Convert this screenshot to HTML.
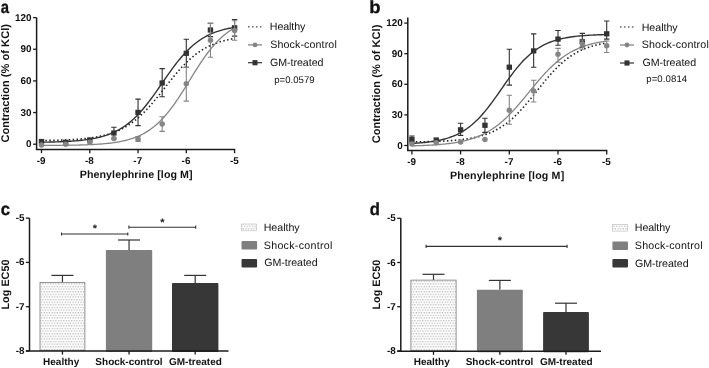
<!DOCTYPE html>
<html><head><meta charset="utf-8"><style>
html,body{margin:0;padding:0;background:#fff;}
body{width:709px;height:368px;overflow:hidden;}
svg{display:block;filter:grayscale(1);}
text{font-family:"Liberation Sans", sans-serif;fill:#111;text-rendering:geometricPrecision;}
.tk{font-size:9.9px;font-weight:bold;}
.al{font-size:10.6px;font-weight:bold;}
.bl{font-size:9.7px;font-weight:bold;}
.lg{font-size:10.2px;fill:#1a1a1a;}
.pv{font-size:9.6px;fill:#1a1a1a;}
.tag{font-size:18px;font-weight:bold;}
.st{font-size:11px;font-weight:bold;fill:#222;}
</style></head><body>
<svg width="709" height="368" viewBox="0 0 709 368">
<defs>
<pattern id="dots" patternUnits="userSpaceOnUse" width="2.62" height="5.24" x="0.3" y="0.3">
<rect width="2.62" height="5.24" fill="#fff"/>
<rect x="0.2" y="0.2" width="1" height="1" fill="#8e8e8e"/>
<rect x="1.51" y="2.82" width="1" height="1" fill="#8e8e8e"/>
</pattern>
</defs>
<rect width="709" height="368" fill="#fff"/>
<line x1="36.6" y1="17.6" x2="36.6" y2="149.4" stroke="#1a1a1a" stroke-width="1.5"/>
<line x1="35.85" y1="149.4" x2="235.18" y2="149.4" stroke="#1a1a1a" stroke-width="1.5"/>
<line x1="33.1" y1="144.20" x2="36.6" y2="144.20" stroke="#1a1a1a" stroke-width="1.3"/>
<text x="31.6" y="147.20" text-anchor="end" class="tk">0</text>
<line x1="33.1" y1="112.55" x2="36.6" y2="112.55" stroke="#1a1a1a" stroke-width="1.3"/>
<text x="31.6" y="115.55" text-anchor="end" class="tk">30</text>
<line x1="33.1" y1="80.90" x2="36.6" y2="80.90" stroke="#1a1a1a" stroke-width="1.3"/>
<text x="31.6" y="83.90" text-anchor="end" class="tk">60</text>
<line x1="33.1" y1="49.25" x2="36.6" y2="49.25" stroke="#1a1a1a" stroke-width="1.3"/>
<text x="31.6" y="52.25" text-anchor="end" class="tk">90</text>
<line x1="33.1" y1="17.60" x2="36.6" y2="17.60" stroke="#1a1a1a" stroke-width="1.3"/>
<text x="31.6" y="20.60" text-anchor="end" class="tk">120</text>
<line x1="41.50" y1="149.4" x2="41.50" y2="153.20000000000002" stroke="#1a1a1a" stroke-width="1.3"/>
<text x="41.20" y="163.9" text-anchor="middle" class="tk">-9</text>
<line x1="89.77" y1="149.4" x2="89.77" y2="153.20000000000002" stroke="#1a1a1a" stroke-width="1.3"/>
<text x="89.47" y="163.9" text-anchor="middle" class="tk">-8</text>
<line x1="138.04" y1="149.4" x2="138.04" y2="153.20000000000002" stroke="#1a1a1a" stroke-width="1.3"/>
<text x="137.74" y="163.9" text-anchor="middle" class="tk">-7</text>
<line x1="186.31" y1="149.4" x2="186.31" y2="153.20000000000002" stroke="#1a1a1a" stroke-width="1.3"/>
<text x="186.01" y="163.9" text-anchor="middle" class="tk">-6</text>
<line x1="234.58" y1="149.4" x2="234.58" y2="153.20000000000002" stroke="#1a1a1a" stroke-width="1.3"/>
<text x="234.28" y="163.9" text-anchor="middle" class="tk">-5</text>
<path d="M41.50,140.55 L43.11,140.52 L44.72,140.50 L46.33,140.47 L47.94,140.45 L49.54,140.42 L51.15,140.38 L52.76,140.35 L54.37,140.31 L55.98,140.27 L57.59,140.22 L59.20,140.17 L60.81,140.12 L62.42,140.07 L64.03,140.01 L65.64,139.94 L67.24,139.87 L68.85,139.79 L70.46,139.71 L72.07,139.62 L73.68,139.53 L75.29,139.42 L76.90,139.31 L78.51,139.19 L80.12,139.06 L81.73,138.92 L83.33,138.77 L84.94,138.61 L86.55,138.44 L88.16,138.25 L89.77,138.04 L91.38,137.83 L92.99,137.59 L94.60,137.34 L96.21,137.07 L97.82,136.78 L99.42,136.46 L101.03,136.13 L102.64,135.77 L104.25,135.38 L105.86,134.97 L107.47,134.52 L109.08,134.05 L110.69,133.54 L112.30,132.99 L113.91,132.41 L115.51,131.79 L117.12,131.13 L118.73,130.42 L120.34,129.67 L121.95,128.87 L123.56,128.02 L125.17,127.13 L126.78,126.17 L128.39,125.17 L130.00,124.10 L131.60,122.98 L133.21,121.80 L134.82,120.56 L136.43,119.26 L138.04,117.89 L139.65,116.47 L141.26,114.98 L142.87,113.44 L144.48,111.83 L146.08,110.17 L147.69,108.46 L149.30,106.69 L150.91,104.87 L152.52,103.00 L154.13,101.10 L155.74,99.16 L157.35,97.18 L158.96,95.18 L160.57,93.15 L162.18,91.11 L163.78,89.07 L165.39,87.01 L167.00,84.96 L168.61,82.92 L170.22,80.90 L171.83,78.89 L173.44,76.91 L175.05,74.96 L176.66,73.05 L178.27,71.18 L179.87,69.36 L181.48,67.58 L183.09,65.86 L184.70,64.19 L186.31,62.58 L187.92,61.03 L189.53,59.54 L191.14,58.11 L192.75,56.74 L194.35,55.43 L195.96,54.18 L197.57,52.99 L199.18,51.86 L200.79,50.79 L202.40,49.78 L204.01,48.82 L205.62,47.91 L207.23,47.06 L208.84,46.25 L210.45,45.50 L212.05,44.79 L213.66,44.12 L215.27,43.49 L216.88,42.91 L218.49,42.36 L220.10,41.85 L221.71,41.37 L223.32,40.92 L224.93,40.50 L226.54,40.11 L228.14,39.74 L229.75,39.41 L231.36,39.09 L232.97,38.80 L234.58,38.52" fill="none" stroke="#222" stroke-width="1.6" stroke-dasharray="1.5 2.4"/>
<path d="M41.50,145.47 L43.11,145.46 L44.72,145.46 L46.33,145.45 L47.94,145.44 L49.54,145.43 L51.15,145.42 L52.76,145.41 L54.37,145.40 L55.98,145.38 L57.59,145.37 L59.20,145.35 L60.81,145.34 L62.42,145.32 L64.03,145.30 L65.64,145.28 L67.24,145.26 L68.85,145.23 L70.46,145.21 L72.07,145.18 L73.68,145.15 L75.29,145.11 L76.90,145.08 L78.51,145.04 L80.12,145.00 L81.73,144.95 L83.33,144.90 L84.94,144.85 L86.55,144.79 L88.16,144.72 L89.77,144.66 L91.38,144.58 L92.99,144.50 L94.60,144.41 L96.21,144.32 L97.82,144.22 L99.42,144.11 L101.03,143.99 L102.64,143.86 L104.25,143.72 L105.86,143.57 L107.47,143.41 L109.08,143.23 L110.69,143.05 L112.30,142.84 L113.91,142.62 L115.51,142.38 L117.12,142.12 L118.73,141.84 L120.34,141.54 L121.95,141.22 L123.56,140.87 L125.17,140.50 L126.78,140.09 L128.39,139.66 L130.00,139.19 L131.60,138.69 L133.21,138.15 L134.82,137.56 L136.43,136.94 L138.04,136.27 L139.65,135.56 L141.26,134.79 L142.87,133.98 L144.48,133.10 L146.08,132.17 L147.69,131.17 L149.30,130.12 L150.91,128.99 L152.52,127.80 L154.13,126.53 L155.74,125.19 L157.35,123.77 L158.96,122.28 L160.57,120.71 L162.18,119.06 L163.78,117.32 L165.39,115.51 L167.00,113.62 L168.61,111.65 L170.22,109.60 L171.83,107.47 L173.44,105.28 L175.05,103.01 L176.66,100.68 L178.27,98.30 L179.87,95.86 L181.48,93.37 L183.09,90.84 L184.70,88.29 L186.31,85.70 L187.92,83.10 L189.53,80.49 L191.14,77.88 L192.75,75.28 L194.35,72.70 L195.96,70.14 L197.57,67.61 L199.18,65.13 L200.79,62.69 L202.40,60.30 L204.01,57.97 L205.62,55.70 L207.23,53.51 L208.84,51.38 L210.45,49.33 L212.05,47.36 L213.66,45.46 L215.27,43.65 L216.88,41.91 L218.49,40.26 L220.10,38.68 L221.71,37.19 L223.32,35.77 L224.93,34.43 L226.54,33.16 L228.14,31.97 L229.75,30.84 L231.36,29.78 L232.97,28.79 L234.58,27.85" fill="none" stroke="#858585" stroke-width="1.3"/>
<path d="M41.50,142.22 L43.11,142.19 L44.72,142.16 L46.33,142.13 L47.94,142.10 L49.54,142.06 L51.15,142.02 L52.76,141.98 L54.37,141.94 L55.98,141.89 L57.59,141.83 L59.20,141.78 L60.81,141.71 L62.42,141.65 L64.03,141.57 L65.64,141.49 L67.24,141.41 L68.85,141.32 L70.46,141.22 L72.07,141.11 L73.68,140.99 L75.29,140.87 L76.90,140.73 L78.51,140.59 L80.12,140.43 L81.73,140.26 L83.33,140.08 L84.94,139.88 L86.55,139.67 L88.16,139.44 L89.77,139.19 L91.38,138.92 L92.99,138.64 L94.60,138.33 L96.21,138.00 L97.82,137.64 L99.42,137.26 L101.03,136.84 L102.64,136.40 L104.25,135.93 L105.86,135.42 L107.47,134.87 L109.08,134.29 L110.69,133.66 L112.30,132.99 L113.91,132.28 L115.51,131.51 L117.12,130.70 L118.73,129.83 L120.34,128.91 L121.95,127.93 L123.56,126.89 L125.17,125.79 L126.78,124.63 L128.39,123.40 L130.00,122.10 L131.60,120.73 L133.21,119.30 L134.82,117.79 L136.43,116.21 L138.04,114.56 L139.65,112.84 L141.26,111.06 L142.87,109.20 L144.48,107.29 L146.08,105.30 L147.69,103.26 L149.30,101.17 L150.91,99.02 L152.52,96.83 L154.13,94.60 L155.74,92.34 L157.35,90.05 L158.96,87.74 L160.57,85.41 L162.18,83.08 L163.78,80.75 L165.39,78.42 L167.00,76.12 L168.61,73.83 L170.22,71.57 L171.83,69.35 L173.44,67.16 L175.05,65.03 L176.66,62.94 L178.27,60.91 L179.87,58.94 L181.48,57.04 L183.09,55.19 L184.70,53.42 L186.31,51.71 L187.92,50.08 L189.53,48.51 L191.14,47.02 L192.75,45.60 L194.35,44.24 L195.96,42.96 L197.57,41.74 L199.18,40.58 L200.79,39.49 L202.40,38.47 L204.01,37.50 L205.62,36.59 L207.23,35.73 L208.84,34.93 L210.45,34.17 L212.05,33.46 L213.66,32.80 L215.27,32.18 L216.88,31.61 L218.49,31.07 L220.10,30.56 L221.71,30.10 L223.32,29.66 L224.93,29.25 L226.54,28.87 L228.14,28.52 L229.75,28.19 L231.36,27.89 L232.97,27.60 L234.58,27.34" fill="none" stroke="#333333" stroke-width="1.4"/>
<rect x="38.80" y="138.9" width="5.4" height="5.2" fill="#333333"/>
<rect x="62.94" y="139.70000000000002" width="5.4" height="5.2" fill="#333333"/>
<rect x="87.07" y="137.4" width="5.4" height="5.2" fill="#333333"/>
<path d="M113.91,127.2 V138.8 M111.20,127.2 h5.4 M111.20,138.8 h5.4" stroke="#333333" stroke-width="1.1" fill="none"/>
<rect x="111.20" y="130.4" width="5.4" height="5.2" fill="#333333"/>
<path d="M138.04,99.1 V125.6 M135.34,99.1 h5.4 M135.34,125.6 h5.4" stroke="#333333" stroke-width="1.1" fill="none"/>
<rect x="135.34" y="109.80000000000001" width="5.4" height="5.2" fill="#333333"/>
<path d="M162.18,68.6 V96.7 M159.48,68.6 h5.4 M159.48,96.7 h5.4" stroke="#333333" stroke-width="1.1" fill="none"/>
<rect x="159.48" y="80.4" width="5.4" height="5.2" fill="#333333"/>
<path d="M186.31,39.3 V67.2 M183.61,39.3 h5.4 M183.61,67.2 h5.4" stroke="#333333" stroke-width="1.1" fill="none"/>
<rect x="183.61" y="50.699999999999996" width="5.4" height="5.2" fill="#333333"/>
<path d="M210.45,23.4 V36.6 M207.75,23.4 h5.4 M207.75,36.6 h5.4" stroke="#333333" stroke-width="1.1" fill="none"/>
<rect x="207.75" y="27.4" width="5.4" height="5.2" fill="#333333"/>
<path d="M234.58,19.5 V36.1 M231.88,19.5 h5.4 M231.88,36.1 h5.4" stroke="#333333" stroke-width="1.1" fill="none"/>
<rect x="231.88" y="25.2" width="5.4" height="5.2" fill="#333333"/>
<circle cx="41.50" cy="145" r="2.75" fill="#858585"/>
<circle cx="65.64" cy="144.3" r="2.75" fill="#858585"/>
<circle cx="89.77" cy="142.3" r="2.75" fill="#858585"/>
<circle cx="113.91" cy="138.4" r="2.75" fill="#858585"/>
<path d="M138.04,136.5 V141.5 M135.34,136.5 h5.4 M135.34,141.5 h5.4" stroke="#858585" stroke-width="1.1" fill="none"/>
<circle cx="138.04" cy="139.2" r="2.75" fill="#858585"/>
<path d="M162.18,116.8 V131.4 M159.48,116.8 h5.4 M159.48,131.4 h5.4" stroke="#858585" stroke-width="1.1" fill="none"/>
<circle cx="162.18" cy="124.1" r="2.75" fill="#858585"/>
<path d="M186.31,67.3 V101.1 M183.61,67.3 h5.4 M183.61,101.1 h5.4" stroke="#858585" stroke-width="1.1" fill="none"/>
<circle cx="186.31" cy="83.7" r="2.75" fill="#858585"/>
<path d="M210.45,23.4 V57.2 M207.75,23.4 h5.4 M207.75,57.2 h5.4" stroke="#858585" stroke-width="1.1" fill="none"/>
<circle cx="210.45" cy="40.2" r="2.75" fill="#858585"/>
<path d="M234.58,20.8 V40.2 M231.88,20.8 h5.4 M231.88,40.2 h5.4" stroke="#858585" stroke-width="1.1" fill="none"/>
<circle cx="234.58" cy="30.5" r="2.75" fill="#858585"/>
<line x1="248" y1="26.8" x2="262" y2="26.8" stroke="#6a6a6a" stroke-width="1.5" stroke-dasharray="1.6 2.35"/>
<line x1="248" y1="44.9" x2="262" y2="44.9" stroke="#858585" stroke-width="1.3"/>
<circle cx="255" cy="44.9" r="2.4" fill="#858585"/>
<line x1="248" y1="62.7" x2="262" y2="62.7" stroke="#333333" stroke-width="1.2"/>
<rect x="252.5" y="60.1" width="5" height="5.2" fill="#333333"/>
<line x1="407.8" y1="17.6" x2="407.8" y2="150.6" stroke="#1a1a1a" stroke-width="1.5"/>
<line x1="407.05" y1="150.6" x2="607.3000000000001" y2="150.6" stroke="#1a1a1a" stroke-width="1.5"/>
<line x1="404.3" y1="145.50" x2="407.8" y2="145.50" stroke="#1a1a1a" stroke-width="1.3"/>
<text x="402.8" y="148.50" text-anchor="end" class="tk">0</text>
<line x1="404.3" y1="114.90" x2="407.8" y2="114.90" stroke="#1a1a1a" stroke-width="1.3"/>
<text x="402.8" y="117.90" text-anchor="end" class="tk">30</text>
<line x1="404.3" y1="84.30" x2="407.8" y2="84.30" stroke="#1a1a1a" stroke-width="1.3"/>
<text x="402.8" y="87.30" text-anchor="end" class="tk">60</text>
<line x1="404.3" y1="53.70" x2="407.8" y2="53.70" stroke="#1a1a1a" stroke-width="1.3"/>
<text x="402.8" y="56.70" text-anchor="end" class="tk">90</text>
<line x1="404.3" y1="23.10" x2="407.8" y2="23.10" stroke="#1a1a1a" stroke-width="1.3"/>
<text x="402.8" y="26.10" text-anchor="end" class="tk">120</text>
<line x1="411.90" y1="150.6" x2="411.90" y2="154.4" stroke="#1a1a1a" stroke-width="1.3"/>
<text x="411.60" y="165.1" text-anchor="middle" class="tk">-9</text>
<line x1="460.60" y1="150.6" x2="460.60" y2="154.4" stroke="#1a1a1a" stroke-width="1.3"/>
<text x="460.30" y="165.1" text-anchor="middle" class="tk">-8</text>
<line x1="509.30" y1="150.6" x2="509.30" y2="154.4" stroke="#1a1a1a" stroke-width="1.3"/>
<text x="509.00" y="165.1" text-anchor="middle" class="tk">-7</text>
<line x1="558.00" y1="150.6" x2="558.00" y2="154.4" stroke="#1a1a1a" stroke-width="1.3"/>
<text x="557.70" y="165.1" text-anchor="middle" class="tk">-6</text>
<line x1="606.70" y1="150.6" x2="606.70" y2="154.4" stroke="#1a1a1a" stroke-width="1.3"/>
<text x="606.40" y="165.1" text-anchor="middle" class="tk">-5</text>
<path d="M411.90,141.92 L413.52,141.90 L415.15,141.88 L416.77,141.86 L418.39,141.84 L420.02,141.81 L421.64,141.78 L423.26,141.75 L424.89,141.72 L426.51,141.69 L428.13,141.65 L429.76,141.61 L431.38,141.56 L433.00,141.52 L434.63,141.47 L436.25,141.41 L437.87,141.35 L439.50,141.28 L441.12,141.21 L442.74,141.14 L444.37,141.06 L445.99,140.97 L447.61,140.87 L449.24,140.77 L450.86,140.65 L452.48,140.53 L454.11,140.40 L455.73,140.26 L457.35,140.11 L458.98,139.94 L460.60,139.76 L462.22,139.57 L463.85,139.36 L465.47,139.14 L467.09,138.90 L468.72,138.64 L470.34,138.36 L471.96,138.06 L473.59,137.74 L475.21,137.39 L476.83,137.02 L478.46,136.61 L480.08,136.18 L481.70,135.72 L483.33,135.23 L484.95,134.69 L486.57,134.13 L488.20,133.52 L489.82,132.87 L491.44,132.18 L493.07,131.44 L494.69,130.65 L496.31,129.81 L497.94,128.92 L499.56,127.98 L501.18,126.98 L502.81,125.93 L504.43,124.81 L506.05,123.64 L507.68,122.40 L509.30,121.10 L510.92,119.74 L512.55,118.32 L514.17,116.83 L515.79,115.29 L517.42,113.68 L519.04,112.02 L520.66,110.30 L522.29,108.53 L523.91,106.71 L525.53,104.85 L527.16,102.94 L528.78,101.00 L530.40,99.03 L532.03,97.03 L533.65,95.02 L535.27,92.99 L536.90,90.96 L538.52,88.92 L540.14,86.89 L541.77,84.88 L543.39,82.88 L545.01,80.91 L546.64,78.97 L548.26,77.06 L549.88,75.19 L551.51,73.37 L553.13,71.60 L554.75,69.88 L556.38,68.22 L558.00,66.61 L559.62,65.07 L561.25,63.58 L562.87,62.16 L564.49,60.79 L566.12,59.49 L567.74,58.26 L569.36,57.08 L570.99,55.96 L572.61,54.91 L574.23,53.91 L575.86,52.96 L577.48,52.07 L579.10,51.24 L580.73,50.45 L582.35,49.71 L583.97,49.01 L585.60,48.36 L587.22,47.76 L588.84,47.19 L590.47,46.66 L592.09,46.16 L593.71,45.70 L595.34,45.26 L596.96,44.86 L598.58,44.49 L600.21,44.14 L601.83,43.82 L603.45,43.51 L605.08,43.23 L606.70,42.98" fill="none" stroke="#222" stroke-width="1.6" stroke-dasharray="1.5 2.4"/>
<path d="M411.90,145.84 L413.52,145.80 L415.15,145.76 L416.77,145.71 L418.39,145.66 L420.02,145.60 L421.64,145.54 L423.26,145.48 L424.89,145.41 L426.51,145.34 L428.13,145.26 L429.76,145.17 L431.38,145.08 L433.00,144.98 L434.63,144.88 L436.25,144.76 L437.87,144.64 L439.50,144.51 L441.12,144.37 L442.74,144.22 L444.37,144.06 L445.99,143.89 L447.61,143.70 L449.24,143.50 L450.86,143.29 L452.48,143.06 L454.11,142.82 L455.73,142.55 L457.35,142.27 L458.98,141.97 L460.60,141.65 L462.22,141.31 L463.85,140.94 L465.47,140.55 L467.09,140.13 L468.72,139.69 L470.34,139.21 L471.96,138.70 L473.59,138.16 L475.21,137.59 L476.83,136.98 L478.46,136.33 L480.08,135.64 L481.70,134.91 L483.33,134.13 L484.95,133.32 L486.57,132.45 L488.20,131.53 L489.82,130.57 L491.44,129.55 L493.07,128.48 L494.69,127.36 L496.31,126.18 L497.94,124.95 L499.56,123.66 L501.18,122.32 L502.81,120.92 L504.43,119.46 L506.05,117.95 L507.68,116.38 L509.30,114.77 L510.92,113.10 L512.55,111.38 L514.17,109.62 L515.79,107.82 L517.42,105.98 L519.04,104.11 L520.66,102.20 L522.29,100.27 L523.91,98.31 L525.53,96.35 L527.16,94.36 L528.78,92.38 L530.40,90.39 L532.03,88.41 L533.65,86.43 L535.27,84.48 L536.90,82.54 L538.52,80.63 L540.14,78.74 L541.77,76.89 L543.39,75.08 L545.01,73.31 L546.64,71.59 L548.26,69.91 L549.88,68.28 L551.51,66.70 L553.13,65.18 L554.75,63.71 L556.38,62.29 L558.00,60.93 L559.62,59.63 L561.25,58.38 L562.87,57.19 L564.49,56.06 L566.12,54.98 L567.74,53.95 L569.36,52.97 L570.99,52.04 L572.61,51.17 L574.23,50.33 L575.86,49.55 L577.48,48.81 L579.10,48.11 L580.73,47.45 L582.35,46.83 L583.97,46.25 L585.60,45.70 L587.22,45.18 L588.84,44.70 L590.47,44.25 L592.09,43.82 L593.71,43.43 L595.34,43.05 L596.96,42.70 L598.58,42.38 L600.21,42.07 L601.83,41.79 L603.45,41.52 L605.08,41.27 L606.70,41.04" fill="none" stroke="#858585" stroke-width="1.3"/>
<path d="M411.90,143.43 L413.52,143.34 L415.15,143.24 L416.77,143.13 L418.39,143.02 L420.02,142.89 L421.64,142.75 L423.26,142.60 L424.89,142.44 L426.51,142.26 L428.13,142.07 L429.76,141.87 L431.38,141.64 L433.00,141.40 L434.63,141.14 L436.25,140.85 L437.87,140.54 L439.50,140.21 L441.12,139.85 L442.74,139.46 L444.37,139.04 L445.99,138.58 L447.61,138.10 L449.24,137.57 L450.86,137.00 L452.48,136.39 L454.11,135.73 L455.73,135.03 L457.35,134.27 L458.98,133.46 L460.60,132.60 L462.22,131.67 L463.85,130.69 L465.47,129.63 L467.09,128.52 L468.72,127.33 L470.34,126.07 L471.96,124.74 L473.59,123.33 L475.21,121.85 L476.83,120.29 L478.46,118.66 L480.08,116.95 L481.70,115.17 L483.33,113.32 L484.95,111.40 L486.57,109.41 L488.20,107.36 L489.82,105.25 L491.44,103.09 L493.07,100.89 L494.69,98.64 L496.31,96.36 L497.94,94.06 L499.56,91.74 L501.18,89.41 L502.81,87.09 L504.43,84.77 L506.05,82.46 L507.68,80.18 L509.30,77.93 L510.92,75.72 L512.55,73.56 L514.17,71.44 L515.79,69.39 L517.42,67.39 L519.04,65.46 L520.66,63.60 L522.29,61.82 L523.91,60.10 L525.53,58.46 L527.16,56.90 L528.78,55.41 L530.40,54.00 L532.03,52.66 L533.65,51.39 L535.27,50.20 L536.90,49.07 L538.52,48.01 L540.14,47.02 L541.77,46.09 L543.39,45.22 L545.01,44.40 L546.64,43.64 L548.26,42.93 L549.88,42.27 L551.51,41.65 L553.13,41.08 L554.75,40.55 L556.38,40.06 L558.00,39.60 L559.62,39.18 L561.25,38.78 L562.87,38.42 L564.49,38.09 L566.12,37.77 L567.74,37.49 L569.36,37.22 L570.99,36.98 L572.61,36.75 L574.23,36.54 L575.86,36.35 L577.48,36.17 L579.10,36.01 L580.73,35.86 L582.35,35.72 L583.97,35.59 L585.60,35.47 L587.22,35.36 L588.84,35.26 L590.47,35.17 L592.09,35.09 L593.71,35.01 L595.34,34.94 L596.96,34.87 L598.58,34.81 L600.21,34.75 L601.83,34.70 L603.45,34.66 L605.08,34.61 L606.70,34.57" fill="none" stroke="#333333" stroke-width="1.4"/>
<path d="M411.90,136 V143 M409.20,136 h5.4 M409.20,143 h5.4" stroke="#333333" stroke-width="1.1" fill="none"/>
<rect x="409.20" y="136.9" width="5.4" height="5.2" fill="#333333"/>
<rect x="433.55" y="137.4" width="5.4" height="5.2" fill="#333333"/>
<path d="M460.60,123.2 V135.4 M457.90,123.2 h5.4 M457.90,135.4 h5.4" stroke="#333333" stroke-width="1.1" fill="none"/>
<rect x="457.90" y="127.20000000000002" width="5.4" height="5.2" fill="#333333"/>
<path d="M484.95,118.3 V132.4 M482.25,118.3 h5.4 M482.25,132.4 h5.4" stroke="#333333" stroke-width="1.1" fill="none"/>
<rect x="482.25" y="122.7" width="5.4" height="5.2" fill="#333333"/>
<path d="M509.30,49.2 V85.1 M506.60,49.2 h5.4 M506.60,85.1 h5.4" stroke="#333333" stroke-width="1.1" fill="none"/>
<rect x="506.60" y="64.60000000000001" width="5.4" height="5.2" fill="#333333"/>
<path d="M533.65,33.9 V67.2 M530.95,33.9 h5.4 M530.95,67.2 h5.4" stroke="#333333" stroke-width="1.1" fill="none"/>
<rect x="530.95" y="48.3" width="5.4" height="5.2" fill="#333333"/>
<path d="M558.00,30.5 V45.2 M555.30,30.5 h5.4 M555.30,45.2 h5.4" stroke="#333333" stroke-width="1.1" fill="none"/>
<rect x="555.30" y="36.5" width="5.4" height="5.2" fill="#333333"/>
<path d="M582.35,33.4 V47 M579.65,33.4 h5.4 M579.65,47 h5.4" stroke="#333333" stroke-width="1.1" fill="none"/>
<rect x="579.65" y="38.9" width="5.4" height="5.2" fill="#333333"/>
<path d="M606.70,21 V39.1 M604.00,21 h5.4 M604.00,39.1 h5.4" stroke="#333333" stroke-width="1.1" fill="none"/>
<rect x="604.00" y="31.199999999999996" width="5.4" height="5.2" fill="#333333"/>
<circle cx="411.90" cy="143.9" r="2.75" fill="#858585"/>
<circle cx="436.25" cy="142.7" r="2.75" fill="#858585"/>
<circle cx="460.60" cy="142.1" r="2.75" fill="#858585"/>
<circle cx="484.95" cy="139.5" r="2.75" fill="#858585"/>
<path d="M509.30,95.3 V124.2 M506.60,95.3 h5.4 M506.60,124.2 h5.4" stroke="#858585" stroke-width="1.1" fill="none"/>
<circle cx="509.30" cy="110.2" r="2.75" fill="#858585"/>
<path d="M533.65,80.2 V102 M530.95,80.2 h5.4 M530.95,102 h5.4" stroke="#858585" stroke-width="1.1" fill="none"/>
<circle cx="533.65" cy="91" r="2.75" fill="#858585"/>
<path d="M558.00,48.4 V62.3 M555.30,48.4 h5.4 M555.30,62.3 h5.4" stroke="#858585" stroke-width="1.1" fill="none"/>
<circle cx="558.00" cy="54.2" r="2.75" fill="#858585"/>
<path d="M582.35,40 V49.3 M579.65,40 h5.4 M579.65,49.3 h5.4" stroke="#858585" stroke-width="1.1" fill="none"/>
<circle cx="582.35" cy="44" r="2.75" fill="#858585"/>
<path d="M606.70,41 V52.5 M604.00,41 h5.4 M604.00,52.5 h5.4" stroke="#858585" stroke-width="1.1" fill="none"/>
<circle cx="606.70" cy="45.7" r="2.75" fill="#858585"/>
<line x1="620" y1="27" x2="634" y2="27" stroke="#6a6a6a" stroke-width="1.5" stroke-dasharray="1.6 2.35"/>
<line x1="620" y1="45" x2="634" y2="45" stroke="#858585" stroke-width="1.3"/>
<circle cx="627" cy="45" r="2.4" fill="#858585"/>
<line x1="620" y1="63" x2="634" y2="63" stroke="#333333" stroke-width="1.2"/>
<rect x="624.5" y="60.4" width="5" height="5.2" fill="#333333"/>
<line x1="25.9" y1="218.10" x2="29.5" y2="218.10" stroke="#1a1a1a" stroke-width="1.3"/>
<text x="24.5" y="221.10" text-anchor="end" class="tk">-5</text>
<line x1="25.9" y1="262.40" x2="29.5" y2="262.40" stroke="#1a1a1a" stroke-width="1.3"/>
<text x="24.5" y="265.40" text-anchor="end" class="tk">-6</text>
<line x1="25.9" y1="306.70" x2="29.5" y2="306.70" stroke="#1a1a1a" stroke-width="1.3"/>
<text x="24.5" y="309.70" text-anchor="end" class="tk">-7</text>
<line x1="25.9" y1="351.00" x2="29.5" y2="351.00" stroke="#1a1a1a" stroke-width="1.3"/>
<text x="24.5" y="354.00" text-anchor="end" class="tk">-8</text>
<line x1="62.45" y1="282.5" x2="62.45" y2="275.4" stroke="#333" stroke-width="1.2"/>
<line x1="51.45" y1="275.4" x2="73.45" y2="275.4" stroke="#333" stroke-width="1.2"/>
<rect x="40.00" y="282.5" width="44.9" height="67.80" fill="url(#dots)" stroke="#7a7a7a" stroke-width="0.8"/>
<line x1="62.45" y1="351" x2="62.45" y2="354.6" stroke="#1a1a1a" stroke-width="1.3"/>
<line x1="129.05" y1="249.9" x2="129.05" y2="240" stroke="#333" stroke-width="1.2"/>
<line x1="118.05" y1="240" x2="140.05" y2="240" stroke="#333" stroke-width="1.2"/>
<rect x="105.90" y="249.9" width="46.3" height="102.10" rx="0.9" fill="#7f7f7f"/>
<line x1="129.05" y1="351" x2="129.05" y2="354.6" stroke="#1a1a1a" stroke-width="1.3"/>
<line x1="195.20" y1="283.0" x2="195.20" y2="275.4" stroke="#333" stroke-width="1.2"/>
<line x1="184.20" y1="275.4" x2="206.20" y2="275.4" stroke="#333" stroke-width="1.2"/>
<rect x="172.00" y="283.0" width="46.4" height="69.00" rx="0.9" fill="#373737"/>
<line x1="195.20" y1="351" x2="195.20" y2="354.6" stroke="#1a1a1a" stroke-width="1.3"/>
<line x1="29.5" y1="218.1" x2="29.5" y2="351" stroke="#1a1a1a" stroke-width="1.5"/>
<line x1="25.9" y1="351" x2="228.5" y2="351" stroke="#1a1a1a" stroke-width="1.5"/>
<path d="M61.5,232.4 v3.2 M61.5,234.0 H127.8 M127.8,232.4 v3.2" stroke="#333" stroke-width="1.1" fill="none"/>
<text x="92.65" y="232.10" class="st">*</text>
<path d="M128.9,225.6 v3.2 M128.9,227.2 H195.7 M195.7,225.6 v3.2" stroke="#333" stroke-width="1.1" fill="none"/>
<text x="160.25" y="226.30" class="st">*</text>
<rect x="241.5" y="224.0" width="15" height="6.8" fill="url(#dots)" stroke="#bbb" stroke-width="0.6"/>
<rect x="241.5" y="240.9" width="15.6" height="8.6" rx="1" fill="#7f7f7f"/>
<rect x="241.5" y="259.1" width="15.6" height="8.4" rx="1" fill="#373737"/>
<line x1="397.2" y1="218.30" x2="400.8" y2="218.30" stroke="#1a1a1a" stroke-width="1.3"/>
<text x="395.8" y="221.30" text-anchor="end" class="tk">-5</text>
<line x1="397.2" y1="262.50" x2="400.8" y2="262.50" stroke="#1a1a1a" stroke-width="1.3"/>
<text x="395.8" y="265.50" text-anchor="end" class="tk">-6</text>
<line x1="397.2" y1="306.70" x2="400.8" y2="306.70" stroke="#1a1a1a" stroke-width="1.3"/>
<text x="395.8" y="309.70" text-anchor="end" class="tk">-7</text>
<line x1="397.2" y1="350.90" x2="400.8" y2="350.90" stroke="#1a1a1a" stroke-width="1.3"/>
<text x="395.8" y="353.90" text-anchor="end" class="tk">-8</text>
<line x1="433.50" y1="280.1" x2="433.50" y2="274.3" stroke="#333" stroke-width="1.2"/>
<line x1="422.50" y1="274.3" x2="444.50" y2="274.3" stroke="#333" stroke-width="1.2"/>
<rect x="410.90" y="280.1" width="45.2" height="70.40" fill="url(#dots)" stroke="#7a7a7a" stroke-width="0.8"/>
<line x1="433.50" y1="351.2" x2="433.50" y2="354.8" stroke="#1a1a1a" stroke-width="1.3"/>
<line x1="499.85" y1="289.7" x2="499.85" y2="280.4" stroke="#333" stroke-width="1.2"/>
<line x1="488.85" y1="280.4" x2="510.85" y2="280.4" stroke="#333" stroke-width="1.2"/>
<rect x="476.90" y="289.7" width="45.9" height="62.50" rx="0.9" fill="#7f7f7f"/>
<line x1="499.85" y1="351.2" x2="499.85" y2="354.8" stroke="#1a1a1a" stroke-width="1.3"/>
<line x1="566.00" y1="312.1" x2="566.00" y2="303.2" stroke="#333" stroke-width="1.2"/>
<line x1="555.00" y1="303.2" x2="577.00" y2="303.2" stroke="#333" stroke-width="1.2"/>
<rect x="543.10" y="312.1" width="45.8" height="40.10" rx="0.9" fill="#373737"/>
<line x1="566.00" y1="351.2" x2="566.00" y2="354.8" stroke="#1a1a1a" stroke-width="1.3"/>
<line x1="400.8" y1="218.3" x2="400.8" y2="351.2" stroke="#1a1a1a" stroke-width="1.5"/>
<line x1="397.2" y1="351.2" x2="601" y2="351.2" stroke="#1a1a1a" stroke-width="1.5"/>
<path d="M426.1,244.8 v3.2 M426.1,246.4 H567.1 M567.1,244.8 v3.2" stroke="#333" stroke-width="1.1" fill="none"/>
<text x="497.75" y="244.20" class="st">*</text>
<rect x="612.4" y="224.29999999999998" width="15" height="6.8" fill="url(#dots)" stroke="#bbb" stroke-width="0.6"/>
<rect x="612.4" y="241.5" width="15.6" height="8.6" rx="1" fill="#7f7f7f"/>
<rect x="612.4" y="259.1" width="15.6" height="8.4" rx="1" fill="#373737"/>
<text x="79.72" y="177.90" style="font-size:10.67px;font-weight:bold;letter-spacing:0.08px">Phenylephrine [log M]</text>
<text transform="translate(9.25,142.59) rotate(-90)" style="font-size:11.10px;font-weight:bold;letter-spacing:0.01px">Contraction (% of KCl)</text>
<text x="269.81" y="30.20" style="font-size:10.67px;font-weight:normal;letter-spacing:-0.09px">Healthy</text>
<text x="270.20" y="47.70" style="font-size:10.67px;font-weight:normal;letter-spacing:0.12px">Shock-control</text>
<text x="269.89" y="65.50" style="font-size:10.67px;font-weight:normal;letter-spacing:-0.03px">GM-treated</text>
<text x="274.25" y="83.10" style="font-size:9.60px;font-weight:normal;letter-spacing:0.01px">p=0.0579</text>
<text x="450.09" y="178.70" style="font-size:10.67px;font-weight:bold;letter-spacing:0.14px">Phenylephrine [log M]</text>
<text transform="translate(380.00,143.32) rotate(-90)" style="font-size:11.10px;font-weight:bold;letter-spacing:0.02px">Contraction (% of KCl)</text>
<text x="641.70" y="30.60" style="font-size:10.67px;font-weight:normal;letter-spacing:-0.02px">Healthy</text>
<text x="641.70" y="47.80" style="font-size:10.67px;font-weight:normal;letter-spacing:0.16px">Shock-control</text>
<text x="642.42" y="66.00" style="font-size:10.67px;font-weight:normal;letter-spacing:-0.01px">GM-treated</text>
<text x="646.25" y="81.90" style="font-size:9.60px;font-weight:normal;letter-spacing:0.09px">p=0.0814</text>
<text transform="translate(9.00,309.52) rotate(-90)" style="font-size:10.80px;font-weight:bold;letter-spacing:0.03px">Log EC50</text>
<text x="43.08" y="364.80" style="font-size:10.00px;font-weight:bold;letter-spacing:0.00px">Healthy</text>
<text x="95.37" y="364.80" style="font-size:10.00px;font-weight:bold;letter-spacing:-0.00px">Shock-control</text>
<text x="168.99" y="364.70" style="font-size:10.00px;font-weight:bold;letter-spacing:0.01px">GM-treated</text>
<text x="263.70" y="230.90" style="font-size:10.67px;font-weight:normal;letter-spacing:-0.02px">Healthy</text>
<text x="263.82" y="248.80" style="font-size:10.67px;font-weight:normal;letter-spacing:0.28px">Shock-control</text>
<text x="264.19" y="266.40" style="font-size:10.67px;font-weight:normal;letter-spacing:-0.05px">GM-treated</text>
<text transform="translate(379.80,309.52) rotate(-90)" style="font-size:10.80px;font-weight:bold;letter-spacing:0.01px">Log EC50</text>
<text x="413.79" y="364.80" style="font-size:10.00px;font-weight:bold;letter-spacing:-0.03px">Healthy</text>
<text x="465.63" y="364.80" style="font-size:10.00px;font-weight:bold;letter-spacing:0.04px">Shock-control</text>
<text x="539.99" y="364.70" style="font-size:10.00px;font-weight:bold;letter-spacing:-0.02px">GM-treated</text>
<text x="634.80" y="231.20" style="font-size:10.67px;font-weight:normal;letter-spacing:-0.10px">Healthy</text>
<text x="634.85" y="248.80" style="font-size:10.67px;font-weight:normal;letter-spacing:0.21px">Shock-control</text>
<text x="635.01" y="266.50" style="font-size:10.67px;font-weight:normal;letter-spacing:-0.03px">GM-treated</text>
<text transform="translate(0.87,13.0) scale(0.85,1)" style="font-size:17.5px;font-weight:bold;stroke:#111;stroke-width:0.3px">a</text>
<text transform="translate(369.2,13.3) scale(1.06,1)" style="font-size:17.5px;font-weight:bold;stroke:#111;stroke-width:0.3px">b</text>
<text transform="translate(0.71,215.3) scale(0.96,1)" style="font-size:17.5px;font-weight:bold;stroke:#111;stroke-width:0.3px">c</text>
<text transform="translate(369.8,214.8) scale(0.95,1)" style="font-size:17.5px;font-weight:bold;stroke:#111;stroke-width:0.3px">d</text>
</svg>
</body></html>
